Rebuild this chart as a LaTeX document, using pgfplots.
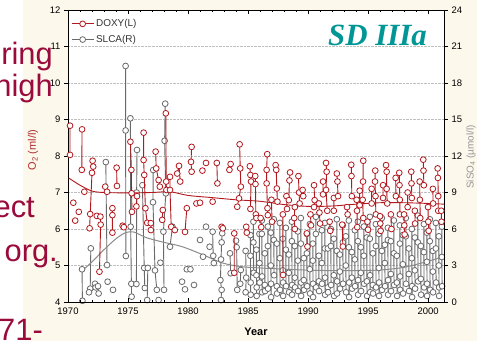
\documentclass[border=0pt]{standalone}
\usepackage{pgfplots}
\pgfplotsset{compat=1.18}
\usepackage{pgfplotstable}
\usepackage{fontspec}
\setmainfont{Liberation Sans}
\newfontfamily\serifbi{Liberation Serif}
\definecolor{cream}{RGB}{253,248,236}
\definecolor{dred}{RGB}{178,24,30}
\definecolor{dgray}{RGB}{105,105,105}
\definecolor{sgray}{RGB}{140,140,140}
\definecolor{slide}{RGB}{155,10,60}
\definecolor{teal2}{RGB}{0,150,150}
\definecolor{lab1}{RGB}{175,45,45}
\definecolor{lab2}{RGB}{150,150,150}

\pgfplotstableread{
x y
1970.17 8.83
1970.17 8.03
1970.17 nan
1970.44 6.72
1970.44 nan
1970.60 6.23
1970.60 nan
1970.90 6.47
1970.90 nan
1971.17 8.73
1971.15 7.62
1971.15 nan
1971.36 7.02
1971.36 nan
1972.05 7.87
1972.10 7.71
1972.00 7.54
1971.85 6.41
1971.80 6.02
1971.80 nan
1972.40 6.36
1972.40 nan
1972.70 6.34
1972.72 6.12
1972.62 4.83
1972.62 nan
1973.10 7.16
1973.25 7.02
1973.25 nan
1973.70 6.57
1973.70 6.38
1973.70 5.90
1973.70 nan
1974.05 7.68
1974.08 7.18
1974.08 nan
1974.55 6.09
1974.65 6.05
1974.65 nan
1975.20 8.39
1975.28 7.62
1975.30 6.98
1975.33 6.47
1975.33 nan
1975.75 6.90
1975.70 6.62
1975.70 nan
1976.30 8.64
1976.30 7.89
1976.35 7.48
1976.45 6.57
1976.60 6.17
1976.60 nan
1976.90 6.16
1976.90 5.97
1976.90 nan
1977.30 8.12
1977.35 7.66
1977.55 7.34
1977.65 7.16
1977.65 nan
1977.90 6.52
1977.85 6.25
1977.85 nan
1978.15 9.17
1978.18 7.30
1978.20 7.07
1978.20 nan
1978.50 7.43
1978.50 7.07
1978.60 6.06
1978.60 nan
1978.90 5.97
1978.90 nan
1979.10 7.52
1979.25 7.73
1979.35 7.30
1979.35 nan
1979.90 6.57
1979.75 5.92
1979.75 nan
1980.30 8.25
1980.25 7.84
1980.30 7.57
1980.30 nan
1980.70 6.70
1980.70 nan
1981.00 6.72
1981.00 nan
1981.20 7.60
1981.20 nan
1981.50 7.81
1981.50 nan
1982.05 6.75
1982.05 nan
1982.40 7.81
1982.45 7.25
1982.45 nan
1982.80 6.06
1982.90 6.02
1982.90 nan
1983.55 7.78
1983.45 7.62
1983.45 nan
1983.85 5.88
1983.85 4.80
1983.85 nan
1984.30 8.32
1984.35 7.66
1984.40 7.16
1984.25 6.84
1984.10 6.61
1984.10 nan
1984.85 6.06
1984.90 5.90
1984.90 nan
1985.15 7.72
1985.20 7.48
1985.25 7.30
1985.20 6.55
1985.20 nan
1985.60 7.45
1985.62 7.23
1985.65 6.40
1985.70 6.30
1985.70 nan
1986.05 6.30
1986.10 6.05
1986.10 nan
1986.60 8.05
1986.55 7.62
1986.55 7.25
1986.62 6.57
1986.65 6.38
1986.65 nan
1986.95 6.80
1987.00 6.20
1987.00 nan
1987.30 7.75
1987.35 7.62
1987.40 7.11
1987.45 6.75
1987.45 nan
1987.90 6.40
1987.92 4.74
1987.92 nan
1988.20 6.90
1988.25 6.55
1988.25 nan
1988.50 7.55
1988.45 7.33
1988.40 6.79
1988.40 nan
1988.90 6.60
1988.85 6.30
1988.90 6.00
1988.90 nan
1989.20 7.45
1989.25 7.00
1989.30 6.70
1989.30 nan
1989.55 7.07
1989.60 6.90
1989.60 nan
1989.90 5.88
1989.95 5.52
1989.95 nan
1990.20 6.40
1990.25 6.10
1990.25 nan
1990.50 7.20
1990.55 6.79
1990.50 6.60
1990.50 nan
1990.90 6.70
1990.95 6.45
1991.00 6.15
1991.00 nan
1991.25 7.30
1991.25 6.95
1991.25 nan
1991.50 7.81
1991.55 7.57
1991.50 7.07
1991.60 6.50
1991.60 nan
1991.80 6.20
1991.85 5.95
1991.85 nan
1992.15 6.85
1992.15 6.50
1992.15 nan
1992.40 7.52
1992.45 7.30
1992.50 6.90
1992.50 nan
1992.85 6.12
1992.90 5.52
1992.90 nan
1993.25 6.60
1993.30 6.40
1993.30 nan
1993.60 7.76
1993.62 7.45
1993.65 6.90
1993.65 nan
1994.05 6.80
1994.08 6.50
1994.10 6.05
1994.10 nan
1994.30 7.05
1994.30 6.65
1994.30 nan
1994.60 7.87
1994.58 7.30
1994.55 6.80
1994.60 6.30
1994.60 nan
1994.95 6.20
1995.00 5.98
1995.00 nan
1995.30 7.10
1995.30 6.70
1995.30 nan
1995.60 7.60
1995.58 7.30
1995.62 6.90
1995.65 6.40
1995.65 nan
1996.00 6.35
1996.02 6.15
1996.05 5.95
1996.05 nan
1996.25 7.20
1996.25 6.85
1996.25 nan
1996.50 7.75
1996.55 7.57
1996.55 7.10
1996.60 6.70
1996.60 nan
1996.90 6.40
1996.95 6.00
1996.95 nan
1997.30 7.40
1997.32 6.90
1997.32 nan
1997.60 7.54
1997.62 7.20
1997.65 6.80
1997.65 6.40
1997.65 nan
1998.00 6.40
1998.02 6.10
1998.05 5.85
1998.05 nan
1998.30 7.00
1998.30 6.60
1998.30 nan
1998.60 7.57
1998.62 7.25
1998.65 6.85
1998.65 nan
1998.90 6.50
1998.92 6.15
1998.92 nan
1999.30 7.30
1999.32 6.80
1999.35 6.30
1999.35 nan
1999.60 7.90
1999.62 7.60
1999.65 7.20
1999.65 nan
2000.00 6.60
2000.02 6.20
2000.05 5.95
2000.05 nan
2000.40 7.10
2000.42 6.70
2000.42 nan
2000.80 7.66
2000.82 7.40
2000.85 6.90
2000.85 6.50
2000.85 nan
2001.10 6.50
2001.12 6.20
}\doxy

\pgfplotstableread{
x y
1971.17 2.69
1971.20 0.10
1971.20 nan
1971.90 4.41
1971.85 1.10
1971.75 0.80
1971.75 nan
1972.25 1.50
1972.30 1.20
1972.30 nan
1972.55 0.70
1972.50 1.30
1972.50 nan
1973.15 11.50
1973.25 3.04
1973.25 nan
1973.30 1.67
1973.30 nan
1973.75 1.00
1973.75 nan
1974.80 19.40
1974.80 14.10
1974.82 3.78
1974.82 nan
1975.20 15.10
1975.22 6.19
1975.28 1.50
1975.30 0.44
1975.30 nan
1975.75 12.50
1975.72 9.00
1975.70 1.48
1975.70 nan
1976.20 9.60
1976.35 2.80
1976.40 1.15
1976.40 nan
1976.65 2.80
1976.60 0.16
1976.60 nan
1977.10 10.85
1977.08 8.20
1977.25 2.60
1977.40 1.00
1977.40 nan
1977.55 0.16
1977.55 nan
1977.70 3.23
1977.70 nan
1978.10 16.30
1978.05 13.25
1978.15 8.93
1977.95 5.78
1978.00 1.00
1978.00 nan
1978.70 6.19
1978.50 4.54
1978.50 nan
1979.50 1.67
1979.50 nan
1979.75 1.04
1979.75 nan
1979.90 2.69
1979.90 nan
1980.20 2.69
1980.20 nan
1980.50 1.40
1980.50 nan
1981.00 5.10
1981.00 nan
1981.25 3.72
1981.25 nan
1981.50 6.19
1981.50 nan
1981.80 4.54
1981.80 nan
1982.05 5.78
1982.10 3.80
1982.15 3.20
1982.15 nan
1982.85 5.65
1982.80 4.90
1982.75 3.50
1982.70 1.80
1982.80 1.00
1982.75 0.16
1982.75 nan
1983.50 4.00
1983.55 2.36
1983.55 nan
1984.00 5.04
1984.05 4.50
1984.10 1.00
1984.10 nan
1984.40 2.63
1984.35 1.50
1984.35 nan
1984.80 4.20
1984.85 2.00
1984.80 0.80
1984.80 nan
1985.20 5.50
1985.20 3.80
1985.22 1.60
1985.22 0.60
1985.22 nan
1985.45 6.60
1985.45 4.90
1985.47 2.40
1985.47 nan
1985.70 4.30
1985.70 2.20
1985.72 1.20
1985.72 0.50
1985.72 nan
1985.95 5.60
1985.95 3.20
1985.97 1.60
1985.97 nan
1986.15 6.70
1986.15 5.60
1986.17 2.10
1986.17 0.80
1986.17 nan
1986.40 4.00
1986.40 1.40
1986.42 0.90
1986.42 nan
1986.65 6.20
1986.65 4.60
1986.67 1.10
1986.67 nan
1986.90 5.70
1986.90 3.00
1986.92 1.50
1986.92 0.40
1986.92 nan
1987.15 6.80
1987.15 5.10
1987.17 2.20
1987.17 nan
1987.40 4.80
1987.40 1.30
1987.42 0.70
1987.42 nan
1987.65 6.50
1987.65 3.60
1987.67 1.00
1987.67 nan
1987.90 5.20
1987.90 2.60
1987.92 1.60
1987.92 0.50
1987.92 nan
1988.15 6.10
1988.15 4.30
1988.17 1.30
1988.17 nan
1988.40 3.90
1988.40 2.40
1988.42 0.80
1988.42 nan
1988.65 6.60
1988.65 5.00
1988.67 1.40
1988.67 0.60
1988.67 nan
1988.90 4.60
1988.90 2.00
1988.92 1.20
1988.92 nan
1989.15 5.80
1989.15 3.40
1989.17 0.90
1989.17 nan
1989.40 6.90
1989.40 4.80
1989.42 1.60
1989.42 0.50
1989.42 nan
1989.65 3.60
1989.65 1.80
1989.67 1.00
1989.67 nan
1989.90 5.60
1989.90 4.00
1989.92 1.30
1989.92 nan
1990.15 6.40
1990.15 2.70
1990.17 0.70
1990.17 nan
1990.40 4.80
1990.40 3.40
1990.42 1.50
1990.42 0.40
1990.42 nan
1990.65 7.00
1990.65 5.60
1990.67 1.20
1990.67 nan
1990.90 3.80
1990.90 1.70
1990.92 0.90
1990.92 nan
1991.15 5.90
1991.15 3.20
1991.17 1.50
1991.17 nan
1991.40 6.50
1991.40 4.40
1991.42 2.00
1991.42 0.60
1991.42 nan
1991.65 4.40
1991.65 1.20
1991.67 0.80
1991.67 nan
1991.90 6.00
1991.90 4.60
1991.92 1.40
1991.92 nan
1992.15 5.20
1992.15 2.20
1992.17 0.50
1992.17 nan
1992.40 6.80
1992.40 4.20
1992.42 1.70
1992.42 0.70
1992.42 nan
1992.65 3.90
1992.65 2.50
1992.67 1.10
1992.67 nan
1992.90 6.30
1992.90 4.90
1992.92 1.50
1992.92 nan
1993.15 5.40
1993.15 3.00
1993.17 0.80
1993.17 nan
1993.40 6.70
1993.40 4.50
1993.42 1.60
1993.42 0.40
1993.42 nan
1993.65 4.10
1993.65 2.00
1993.67 1.10
1993.67 nan
1993.90 5.90
1993.90 3.50
1993.92 1.30
1993.92 nan
1994.15 6.60
1994.15 5.00
1994.17 1.80
1994.17 0.60
1994.17 nan
1994.40 4.50
1994.40 2.40
1994.42 0.90
1994.42 nan
1994.65 6.20
1994.65 3.80
1994.67 1.50
1994.67 nan
1994.90 5.30
1994.90 1.70
1994.92 0.50
1994.92 nan
1995.15 7.00
1995.15 5.20
1995.17 2.20
1995.17 0.80
1995.17 nan
1995.40 4.00
1995.40 1.40
1995.42 0.70
1995.42 nan
1995.65 6.40
1995.65 4.60
1995.67 1.20
1995.67 nan
1995.90 5.60
1995.90 2.80
1995.92 1.60
1995.92 0.50
1995.92 nan
1996.15 6.90
1996.15 4.20
1996.17 1.00
1996.17 nan
1996.40 4.70
1996.40 3.20
1996.42 1.30
1996.42 nan
1996.65 6.10
1996.65 5.10
1996.67 1.80
1996.67 0.60
1996.67 nan
1996.90 5.00
1996.90 2.30
1996.92 0.90
1996.92 nan
1997.15 6.70
1997.15 4.00
1997.17 1.40
1997.17 nan
1997.40 3.80
1997.40 1.60
1997.42 0.50
1997.42 nan
1997.65 6.30
1997.65 4.80
1997.67 2.10
1997.67 1.00
1997.67 nan
1997.90 5.50
1997.90 3.10
1997.92 0.70
1997.92 nan
1998.15 6.90
1998.15 5.40
1998.17 1.50
1998.17 nan
1998.40 4.40
1998.40 2.30
1998.42 0.90
1998.42 nan
1998.65 6.00
1998.65 3.60
1998.67 1.30
1998.67 0.40
1998.67 nan
1998.90 5.30
1998.90 2.60
1998.92 1.10
1998.92 nan
1999.15 7.10
1999.15 4.90
1999.17 1.70
1999.17 nan
1999.40 4.60
1999.40 1.90
1999.42 0.60
1999.42 nan
1999.65 6.40
1999.65 4.10
1999.67 1.20
1999.67 nan
1999.90 5.70
1999.90 3.30
1999.92 1.50
1999.92 0.50
1999.92 nan
2000.15 6.80
2000.15 5.00
2000.17 1.00
2000.17 nan
2000.40 4.20
2000.40 2.50
2000.42 0.80
2000.42 nan
2000.65 6.50
2000.65 4.40
2000.67 1.60
2000.67 nan
2000.90 5.40
2000.90 3.00
2000.92 1.20
2000.92 0.50
2000.92 nan
2001.15 6.20
2001.15 3.70
2001.17 1.30
}\slca

\begin{document}
\begin{tikzpicture}[x=1bp,y=1bp]
\useasboundingbox (0,0) rectangle (477,341);
\fill[white] (0,0) rectangle (477,341);
\fill[cream] (23,0) rectangle (477,341);
\fill[white] (68,39) rectangle (444,331);

% right axis: SLCA
\begin{axis}[
  at={(68bp,39bp)}, anchor=south west,
  width=376bp, height=292bp, scale only axis,
  xmin=1970, xmax=2001.33, ymin=0, ymax=24,
  axis x line=none, axis y line*=right,
  every outer y axis line/.append style={-},
  y axis line style={-, black, line width=0.8bp},
  ytick={0,3,...,24}, ytick align=outside,
  major tick length=4bp,
  ymajorgrids, grid style={densely dotted, gray!50, line width=0.6bp},
  tick style={black, line width=0.6bp},
  /pgf/number format/assume math mode=true,
  tick label style={font=\fontsize{9.5}{11}\selectfont},
  every axis y label/.style={at={(axis description cs:1.072,0.497)}, rotate=90, anchor=center},
  ylabel={\textcolor{lab2}{SiSO\textsubscript{4} (µmol/l)}},
  ylabel style={font=\fontsize{10}{12}\selectfont},
  unbounded coords=jump, clip=false,
]
\addplot[color=dgray, line width=0.9bp, mark=*, mark size=2.9bp,
  mark options={fill=white, draw=dgray, line width=0.8bp, solid}] table[x=x,y=y] {\slca};
\addplot[color=sgray, line width=1bp, smooth, no markers] coordinates {
(1971.1,2.5) (1972,3.3) (1973,4.3) (1974,5.2) (1974.8,5.7) (1975.5,5.75) (1976.5,5.3)
(1977.8,4.95) (1979.5,4.55) (1981.2,3.9) (1982.9,3.2) (1984.5,2.9) (1986,2.8) (1988,2.7)
(1990,2.62) (1992,2.58) (1994,2.58) (1996,2.63) (1998,2.85) (2000,3.35) (2001.33,3.75)};
\end{axis}

% left axis: DOXY
\begin{axis}[
  at={(68bp,39bp)}, anchor=south west,
  width=376bp, height=292bp, scale only axis,
  xmin=1970, xmax=2001.33, ymin=4, ymax=12,
  axis line style={black, line width=0.8bp},
  xtick={1970,1975,...,2000}, minor x tick num=4,
  xtick pos=both, ytick pos=left,
  xtick align=inside, ytick align=outside,
  ytick={4,...,12},
  major tick length=4bp, minor tick length=2bp,
  tick style={black, line width=0.6bp},
  /pgf/number format/1000 sep={},
  /pgf/number format/assume math mode=true,
  tick label style={font=\fontsize{9.5}{11}\selectfont},
  xticklabel style={yshift=-2bp},
  every axis y label/.style={at={(axis description cs:-0.093,0.52)}, rotate=90, anchor=center},
  every axis x label/.style={at={(axis description cs:0.5,-0.103)}, anchor=center},
  ylabel={\textcolor{lab1}{O\textsubscript{2} (ml/l)}},
  ylabel style={font=\fontsize{11}{13}\selectfont},
  xlabel={Year},
  xlabel style={font=\bfseries\fontsize{11}{13}\selectfont},
  unbounded coords=jump, clip=false,
  legend style={at={(axis description cs:0.008,0.975)}, anchor=north west,
    draw=none, fill=none, font=\fontsize{10}{12}\selectfont, row sep=3bp,
    inner sep=0bp, text=black!80},
  legend cell align=left,
  legend image code/.code={\draw[mark repeat=2,mark phase=2,#1] plot coordinates {(0bp,0bp) (11bp,0bp) (22bp,0bp)};},
]
\addplot[color=dred, line width=0.9bp, mark=*, mark size=2.9bp,
  mark options={fill=white, draw=dred, line width=0.8bp, solid}] table[x=x,y=y] {\doxy};
\addlegendentry{DOXY(L)}
\addlegendimage{color=dgray, line width=0.9bp, mark=*, mark size=2.9bp,
  mark options={fill=white, draw=dgray, line width=0.8bp, solid}}
\addlegendentry{SLCA(R)}
\addplot[color=dred, line width=0.9bp, smooth, no markers, forget plot] coordinates {
(1970.05,7.40) (1971,7.20) (1972,7.04) (1973,7.00) (1975,6.99) (1977,7.00) (1978.5,7.02)
(1980,6.92) (1982,6.86) (1984,6.80) (1986,6.76) (1988,6.67) (1990,6.62) (1992,6.63)
(1994,6.68) (1996,6.72) (1998,6.72) (2000,6.70) (2001.33,6.68)};
\end{axis}

\node[anchor=base west, text=teal2, inner sep=0pt,
  font=\serifbi\bfseries\itshape\fontsize{31}{31}\selectfont] at (328,296) {SD IIIa};

\begin{scope}[every node/.style={anchor=base east, text=slide, inner sep=0pt,
  font=\fontsize{31}{31}\selectfont}]
\node at (53,277) {ring};
\node at (53,245) {high};
\node at (35,124) {ect};
\node at (58,80) {org.};
\node at (43,1) {71-};
\end{scope}
\end{tikzpicture}
\end{document}
